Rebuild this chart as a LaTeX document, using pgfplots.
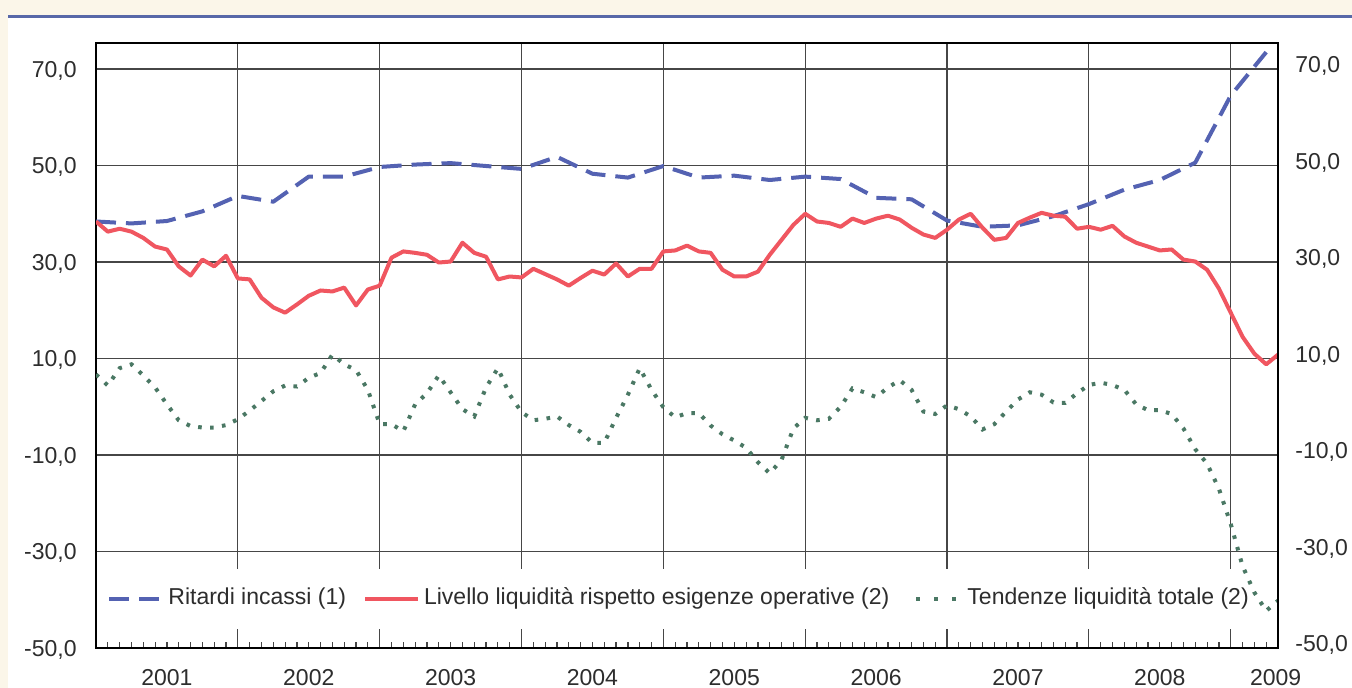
\documentclass[border=0pt]{standalone}
\usepackage{fontspec}
\setmainfont{Liberation Sans}
\usepackage{pgfplots}
\pgfplotsset{compat=1.18}
\definecolor{cream}{RGB}{251,246,233}
\definecolor{rulec}{RGB}{88,104,168}
\definecolor{serblue}{RGB}{84,98,178}
\definecolor{serred}{RGB}{240,86,96}
\definecolor{sergreen}{RGB}{74,120,100}
\definecolor{gridc}{RGB}{70,70,70}
\definecolor{txt}{RGB}{45,45,45}
\newcommand{\lblfont}{\fontsize{11.5}{13.8}\selectfont}

\pgfplotstableread{
m v
0 38.4
3 38.0
6 38.5
9 40.5
12 43.7
15 42.5
18 47.7
21 47.7
24 49.7
27 50.2
30 50.5
33 49.9
36 49.3
39 51.8
42 48.3
45 47.5
48 49.9
51 47.5
54 47.9
57 47.0
60 47.7
63 47.2
66 43.3
69 43.0
72 38.6
75 37.3
78 37.6
81 39.5
84 42.0
87 45.0
90 47.0
93 50.6
96 64.5
99 73.5
}\ritardi

\pgfplotstableread{
m v
0 38.4
1 36.3
2 36.9
3 36.3
4 35.0
5 33.2
6 32.6
7 29.1
8 27.2
9 30.5
10 29.1
11 31.3
12 26.6
13 26.4
14 22.6
15 20.6
16 19.5
17 21.2
18 23.0
19 24.1
20 23.9
21 24.7
22 21.0
23 24.3
24 25.1
25 30.9
26 32.2
27 31.9
28 31.5
29 29.9
30 30.1
31 34.0
32 31.9
33 31.1
34 26.4
35 27.0
36 26.8
37 28.6
38 27.5
39 26.4
40 25.1
41 26.7
42 28.2
43 27.4
44 29.7
45 27.0
46 28.6
47 28.6
48 32.2
49 32.4
50 33.4
51 32.2
52 31.9
53 28.4
54 27.0
55 27.0
56 28.0
57 31.5
58 34.6
59 37.7
60 40.0
61 38.4
62 38.1
63 37.3
64 39.0
65 38.1
66 39.0
67 39.6
68 38.8
69 37.1
70 35.7
71 35.0
72 36.7
73 38.8
74 40.0
75 37.1
76 34.6
77 35.0
78 38.1
79 39.2
80 40.2
81 39.6
82 39.4
83 36.9
84 37.3
85 36.7
86 37.5
87 35.3
88 34.0
89 33.2
90 32.4
91 32.6
92 30.5
93 30.1
94 28.4
95 24.5
96 19.5
97 14.5
98 11.0
99 8.8
100 10.8
}\livello

\pgfplotstableread{
m v
0 6.7
1 4.4
2 8.0
3 8.8
4 6.5
5 4.0
6 0.5
7 -2.8
8 -4.0
9 -4.3
10 -4.3
11 -3.8
12 -2.6
13 -0.8
14 1.2
15 3.2
16 4.4
17 4.2
18 6.0
19 7.0
20 10.8
21 8.8
22 7.6
23 3.5
24 -3.6
25 -3.6
26 -5.1
27 0.5
28 2.8
29 6.5
30 3.0
31 -0.5
32 -2.0
33 4.0
34 8.0
35 2.5
36 -1.1
37 -2.8
38 -2.5
39 -2.0
40 -3.8
41 -5.2
42 -7.5
43 -7.5
44 -2.3
45 2.5
46 8.0
47 3.5
48 -0.1
49 -2.2
50 -1.3
51 -1.3
52 -3.9
53 -5.7
54 -7.0
55 -8.5
56 -11.5
57 -13.8
58 -11.0
59 -4.5
60 -2.3
61 -2.8
62 -2.5
63 0.0
64 3.8
65 3.0
66 2.0
67 4.0
68 5.5
69 3.5
70 -1.0
71 -1.5
72 0.3
73 -0.5
74 -2.0
75 -4.7
76 -3.6
77 -1.0
78 1.5
79 3.0
80 2.5
81 0.9
82 0.8
83 2.8
84 4.5
85 5.0
86 4.5
87 3.5
88 0.5
89 -0.7
90 -0.7
91 -1.5
92 -4.5
93 -8.8
94 -11.8
95 -17.0
96 -24.3
97 -33.0
98 -38.5
99 -42.3
100 -40.2
}\tendenze

\begin{document}
\begin{tikzpicture}
\useasboundingbox (0,0) rectangle (676pt,344pt);
\fill[cream] (0,0) rectangle (676pt,344pt);
\fill[white] (4pt,0) rectangle (676pt,335.5pt);
\draw[rulec, line width=1.5pt] (4pt,335.5pt) -- (676pt,335.5pt);

\begin{axis}[
  at={(48pt,20pt)}, anchor=south west, scale only axis,
  width=591pt, height=302.5pt,
  xmin=0, xmax=100, ymin=-50, ymax=75.4,
  axis line style={black, line width=0.8pt},
  xtick={12,24,...,96}, xticklabels={},
  minor xtick={1,...,99},
  extra x ticks={6,18,30,42,54,66,78,90,99.8},
  extra x tick labels={2001,2002,2003,2004,2005,2006,2007,2008,2009},
  extra x tick style={grid=none, major tick length=0pt},
  xtick pos=left, tick align=inside,
  major tick length=9.5pt, minor tick length=3pt,
  tick style={gridc, line width=0.6pt},
  xmajorgrids, ymajorgrids,
  major grid style={gridc, line width=0.6pt},
  ytick={-50,-30,...,70},
  ytick style={draw=none},
  yticklabel pos=left,
  /pgf/number format/.cd, use comma, fixed, fixed zerofill, precision=1, assume math mode=true,
  /pgfplots/.cd,
  xticklabel style={font=\lblfont, text=txt, anchor=base, yshift=-19pt},
  yticklabel style={font=\lblfont, text=txt, anchor=base east, inner sep=0pt, xshift=-9.5pt, yshift=-4.1pt},
  legend columns=3,
  legend cell align=left,
  legend style={at={(axis cs:0.34,-39.8)}, anchor=west, fill=white, draw=none,
    inner xsep=3.5pt, inner ysep=9.5pt, font=\lblfont, text=txt,
    nodes={inner sep=0pt, text height=8.5pt, text depth=2.5pt},
    /tikz/every even column/.append style={column sep=8.5pt},
    /tikz/every odd column/.append style={column sep=2pt}},
  legend image code/.code={\draw[#1] (0pt,0pt) -- (26.5pt,0pt);},
]
\addplot[serblue, line width=2pt, dash pattern=on 10pt off 5pt, line join=round] table[x=m,y=v] {\ritardi};
\addlegendentry{Ritardi incassi (1)}
\addplot[serred, line width=2pt, line join=round] table[x=m,y=v] {\livello};
\addlegendentry{Livello liquidità rispetto esigenze operative (2)}
\addlegendimage{sergreen, line width=2pt, dash pattern=on 2pt off 7pt, dash phase=-4pt}
\addlegendentry{Tendenze liquidità totale (2)}
\end{axis}

% green series drawn on top of the legend box, as in the reference
\begin{axis}[
  at={(48pt,20pt)}, anchor=south west, scale only axis,
  width=591pt, height=302.5pt,
  xmin=0, xmax=100, ymin=-50, ymax=75.4,
  hide x axis, hide y axis,
]
\addplot[sergreen, line width=2pt, dash pattern=on 1.8pt off 4.2pt] table[x=m,y=v] {\tendenze};
\end{axis}

\begin{axis}[
  at={(48pt,20pt)}, anchor=south west, scale only axis,
  width=591pt, height=302.5pt,
  xmin=0, xmax=100, ymin=-50, ymax=75.4,
  hide x axis,
  axis y line*=right,
  axis line style={black, line width=0.8pt},
  ytick={-50,-30,...,70},
  ytick style={draw=none},
  /pgf/number format/.cd, use comma, fixed, fixed zerofill, precision=1, assume math mode=true,
  /pgfplots/.cd,
  yticklabel style={font=\lblfont, text=txt, anchor=base west, inner sep=0pt, xshift=8.5pt, yshift=-1.8pt},
]
\end{axis}
\end{tikzpicture}
\end{document}
